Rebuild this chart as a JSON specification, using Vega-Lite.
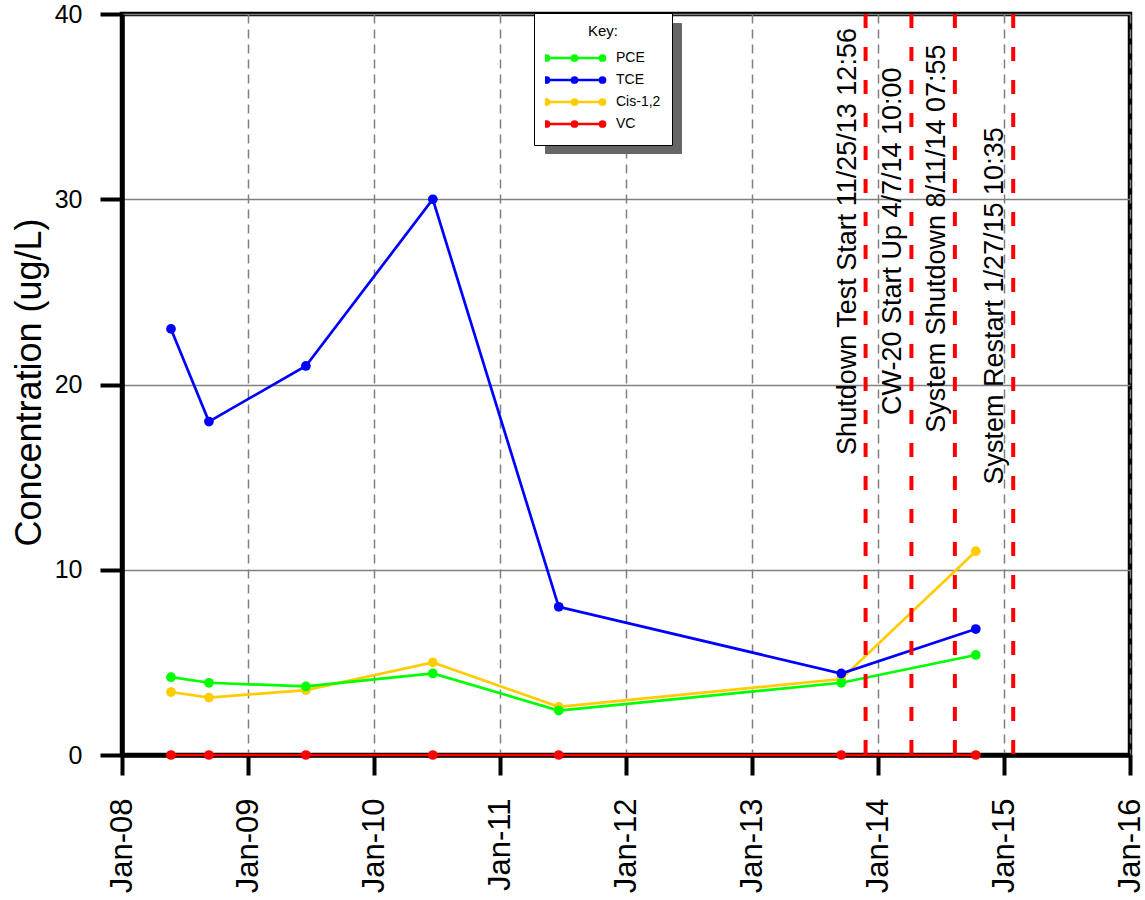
{
  "$schema": "https://vega.github.io/schema/vega-lite/v6.json",
  "width": 1008,
  "height": 741,
  "autosize": {"type": "none"},
  "padding": {"left": 122, "top": 14, "right": 15, "bottom": 145},
  "background": "white",
  "config": {
    "font": "Liberation Sans",
    "view": {"stroke": "black", "strokeWidth": 4.5},
    "axis": {"labelColor": "black", "titleColor": "black", "labelFont": "Liberation Sans", "titleFont": "Liberation Sans"}
  },
  "datasets": {
    "samples": [
      {"date": "2008-05-22", "compound": "Cis-1,2", "value": 3.4},
      {"date": "2008-09-09", "compound": "Cis-1,2", "value": 3.1},
      {"date": "2009-06-17", "compound": "Cis-1,2", "value": 3.5},
      {"date": "2010-06-20", "compound": "Cis-1,2", "value": 5.0},
      {"date": "2011-06-20", "compound": "Cis-1,2", "value": 2.6},
      {"date": "2013-09-16", "compound": "Cis-1,2", "value": 4.1},
      {"date": "2014-10-11", "compound": "Cis-1,2", "value": 11.0},
      {"date": "2008-05-22", "compound": "PCE", "value": 4.2},
      {"date": "2008-09-09", "compound": "PCE", "value": 3.9},
      {"date": "2009-06-17", "compound": "PCE", "value": 3.7},
      {"date": "2010-06-20", "compound": "PCE", "value": 4.4},
      {"date": "2011-06-20", "compound": "PCE", "value": 2.4},
      {"date": "2013-09-16", "compound": "PCE", "value": 3.9},
      {"date": "2014-10-11", "compound": "PCE", "value": 5.4},
      {"date": "2008-05-22", "compound": "TCE", "value": 23},
      {"date": "2008-09-09", "compound": "TCE", "value": 18},
      {"date": "2009-06-17", "compound": "TCE", "value": 21},
      {"date": "2010-06-20", "compound": "TCE", "value": 30},
      {"date": "2011-06-20", "compound": "TCE", "value": 8},
      {"date": "2013-09-16", "compound": "TCE", "value": 4.4},
      {"date": "2014-10-11", "compound": "TCE", "value": 6.8},
      {"date": "2008-05-22", "compound": "VC", "value": 0},
      {"date": "2008-09-09", "compound": "VC", "value": 0},
      {"date": "2009-06-17", "compound": "VC", "value": 0},
      {"date": "2010-06-20", "compound": "VC", "value": 0},
      {"date": "2011-06-20", "compound": "VC", "value": 0},
      {"date": "2013-09-16", "compound": "VC", "value": 0},
      {"date": "2014-10-11", "compound": "VC", "value": 0}
    ],
    "events": [
      {"date": "2013-11-25T12:56:00Z", "event": "Shutdown Test Start 11/25/13 12:56", "label_y": 16.2},
      {"date": "2014-04-07T10:00:00Z", "event": "CW-20 Start Up 4/7/14 10:00", "label_y": 18.35},
      {"date": "2014-08-11T07:55:00Z", "event": "System Shutdown 8/11/14 07:55", "label_y": 17.4},
      {"date": "2015-01-27T10:35:00Z", "event": "System Restart 1/27/15 10:35", "label_y": 14.6}
    ]
  },
  "encoding": {
    "x": {
      "field": "date",
      "type": "temporal",
      "scale": {"type": "utc", "domain": [{"year": 2008, "month": 1, "date": 1, "utc": true}, {"year": 2016, "month": 1, "date": 1, "utc": true}], "nice": false},
      "axis": {
        "title": null,
        "format": "%b-%y",
        "values": [
          {"year": 2008, "month": 1, "date": 1, "utc": true},
          {"year": 2009, "month": 1, "date": 1, "utc": true},
          {"year": 2010, "month": 1, "date": 1, "utc": true},
          {"year": 2011, "month": 1, "date": 1, "utc": true},
          {"year": 2012, "month": 1, "date": 1, "utc": true},
          {"year": 2013, "month": 1, "date": 1, "utc": true},
          {"year": 2014, "month": 1, "date": 1, "utc": true},
          {"year": 2015, "month": 1, "date": 1, "utc": true},
          {"year": 2016, "month": 1, "date": 1, "utc": true}
        ],
        "labelAngle": 270,
        "labelAlign": "right",
        "labelBaseline": "middle",
        "labelFontSize": 31,
        "labelPadding": 23,
        "labelFlush": false,
        "labelOverlap": false,
        "domainColor": "black",
        "domainWidth": 4.5,
        "tickColor": "black",
        "tickWidth": 4,
        "tickSize": 20,
        "grid": true,
        "gridColor": "#808080",
        "gridWidth": 1.5,
        "gridDash": [9, 6],
        "gridOpacity": 1
      }
    }
  },
  "layer": [
    {
      "data": {"name": "samples"},
      "mark": {"type": "line", "strokeWidth": 2.7, "point": {"filled": true, "size": 95, "opacity": 1}},
      "encoding": {
        "y": {
          "field": "value",
          "type": "quantitative",
          "scale": {"domain": [0, 40], "nice": false},
          "axis": {
            "title": "Concentration (ug/L)",
            "titleFontSize": 36,
            "titleFontWeight": "normal",
            "titleAngle": 270,
            "titleAlign": "center",
            "titleBaseline": "alphabetic",
            "titleX": -82,
            "titleY": 368,
            "values": [0, 10, 20, 30, 40],
            "labelFontSize": 25,
            "labelPadding": 18,
            "labelFlush": false,
            "domainColor": "black",
            "domainWidth": 4.5,
            "tickColor": "black",
            "tickWidth": 4,
            "tickSize": 22,
            "grid": true,
            "gridColor": "#808080",
            "gridWidth": 1.5,
            "gridOpacity": 1
          }
        },
        "color": {
          "field": "compound",
          "type": "nominal",
          "sort": null,
          "scale": {"domain": ["PCE", "TCE", "Cis-1,2", "VC"], "range": ["#00FF00", "#0000FF", "#FFCC00", "#FF0000"]},
          "legend": {
            "title": "Key:",
            "orient": "none",
            "legendX": 412,
            "legendY": -1,
            "zindex": 2,
            "fillColor": "white",
            "strokeColor": "black",
            "padding": 11,
            "titleAnchor": "middle",
            "titleFontSize": 15,
            "titleFontWeight": "normal",
            "titleColor": "black",
            "titlePadding": 9,
            "labelFontSize": 14,
            "labelColor": "black",
            "labelOffset": 12,
            "symbolType": "M-1,0L1,0M-1.09,0a0.09,0.09 0 1,0 0.18,0a0.09,0.09 0 1,0 -0.18,0M-0.09,0a0.09,0.09 0 1,0 0.18,0a0.09,0.09 0 1,0 -0.18,0M0.91,0a0.09,0.09 0 1,0 0.18,0a0.09,0.09 0 1,0 -0.18,0",
            "symbolSize": 3136,
            "symbolStrokeWidth": 2.7,
            "clipHeight": 20,
            "rowPadding": 2
          }
        }
      }
    },
    {
      "data": {"name": "events"},
      "mark": {"type": "rule", "color": "#FF0000", "strokeWidth": 4},
      "encoding": {
        "x": {"field": "date", "type": "temporal"},
        "strokeDash": {
          "field": "event",
          "type": "nominal",
          "scale": {"range": [[14, 19], [14, 19], [14, 19], [14, 19]]},
          "legend": {
            "title": null,
            "orient": "none",
            "legendX": 423,
            "legendY": 9,
            "zindex": 1,
            "fillColor": "#666666",
            "strokeColor": "#666666",
            "padding": 11,
            "labelExpr": "''",
            "labelFontSize": 1,
            "labelOffset": 56,
            "symbolType": "M-1,0L1,0",
            "symbolSize": 3136,
            "symbolStrokeColor": "transparent",
            "symbolOpacity": 0,
            "clipHeight": 24,
            "rowPadding": 4
          }
        }
      }
    },
    {
      "data": {"name": "events"},
      "mark": {"type": "text", "angle": 270, "align": "left", "baseline": "alphabetic", "dy": -10, "fontSize": 27, "font": "Liberation Sans", "color": "black"},
      "encoding": {
        "x": {"field": "date", "type": "temporal"},
        "y": {"field": "label_y", "type": "quantitative"},
        "text": {"field": "event"}
      }
    }
  ]
}
